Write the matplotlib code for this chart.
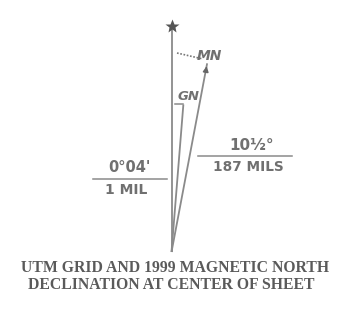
import numpy as np
import matplotlib
matplotlib.use("Agg")
import matplotlib.pyplot as plt

# Declination diagram values
line_names = ["TN", "GN", "MN"]
line_angles_deg = [0.0, 4.6, 10.7]      # schematic drawing angles
line_lengths = [224, 148, 192]
labels_left = ["0°04'", "1 MIL"]
labels_right = ["10½°", "187 MILS"]
caption = ["UTM GRID AND 1999 MAGNETIC NORTH", "DECLINATION AT CENTER OF SHEET"]

W, H = 338, 311
fig = plt.figure(figsize=(W / 100, H / 100), dpi=100)
ax = fig.add_axes([0, 0, 1, 1])
ax.set_xlim(0, W)
ax.set_ylim(H, 0)
ax.axis("off")

lc = "#8a8a8a"
tc = "#707070"
apex = (171.5, 252)

ends = {}
for name, ang, L in zip(line_names, line_angles_deg, line_lengths):
    a = np.deg2rad(ang)
    x1 = apex[0] + L * np.sin(a)
    y1 = apex[1] - L * np.cos(a)
    ends[name] = (x1, y1)
    ax.plot([apex[0], x1], [apex[1], y1], color=lc, lw=1.3, solid_capstyle="butt")

# star on true north
tx, ty = ends["TN"]
ax.plot(tx, ty - 2, marker="*", color="#555555", markersize=10, mec="none")

# GN label with small hook
gx, gy = ends["GN"]
ax.plot([gx - 8, gx], [gy, gy], color=lc, lw=1.1)
ax.text(gx - 6, gy - 1.5, "GN", fontsize=9.5, color=tc, family="DejaVu Sans",
        ha="left", va="bottom", fontweight="semibold", style="italic")

# MN arrow + dotted line + label
mx, my = ends["MN"]
ax.annotate("", xy=(mx, my), xytext=(mx - 2.0, my + 12),
            arrowprops=dict(arrowstyle="-|>", color="#666666", lw=1.1,
                            mutation_scale=8))
ax.plot([177, 203], [53, 59], color="#777777", lw=1.2, ls=(0, (1, 1)))
ax.text(197, 55.5, "MN", fontsize=10, color=tc, family="DejaVu Sans",
        ha="left", va="center", fontweight="semibold", style="italic")

# left fraction
ax.plot([93, 167], [179, 179], color=lc, lw=1.1)
ax.text(129.5, 175.5, labels_left[0], fontsize=10.5, color=tc, family="DejaVu Sans",
        ha="center", va="bottom", fontweight="semibold")
ax.text(126, 183, labels_left[1], fontsize=10, color=tc, family="DejaVu Sans",
        ha="center", va="top", fontweight="semibold")

# right fraction
ax.plot([198, 292], [156, 156], color=lc, lw=1.1)
ax.text(252, 152.5, labels_right[0], fontsize=11, color=tc, family="DejaVu Sans",
        ha="center", va="bottom", fontweight="semibold")
ax.text(248, 160, labels_right[1], fontsize=9.8, color=tc, family="DejaVu Sans",
        ha="center", va="top", fontweight="bold")

# caption, scaled to the reference width
fig.canvas.draw()
r = fig.canvas.get_renderer()
targets = [(175, 268.5, 306), (171.5, 285, 287)]
for txt, (cx, cy, wpx) in zip(caption, targets):
    t = ax.text(cx, cy, txt, fontsize=10, color="#5a5a5a", family="Liberation Serif",
                ha="center", va="center", fontweight="bold")
    w = t.get_window_extent(renderer=r).width
    t.set_fontsize(10 * wpx / w)

fig.savefig("out.png", dpi=100, facecolor="white")
